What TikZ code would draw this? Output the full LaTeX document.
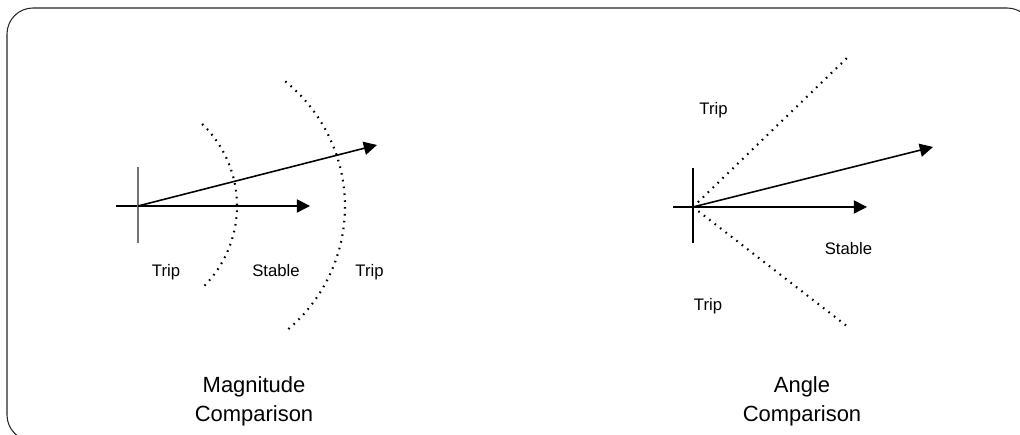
\documentclass[tikz,border=0pt]{standalone}
\usepackage{fontspec}
\setsansfont{Liberation Sans}
\usepackage{tikz}
\usetikzlibrary{calc, positioning, arrows.meta}

\begin{document}
\begin{tikzpicture}[font=\sffamily\fontsize{9.5}{11}\selectfont,
    vec/.style={line width=0.9pt, -{Triangle[length=7.5pt, width=7.5pt]}},
    limit/.style={line width=1.2pt, dash pattern=on 0.9pt off 3pt},
    axis/.style={line width=0.6pt},
    caption/.style={font=\sffamily\fontsize{12.5}{16.4}\selectfont, align=center, anchor=north, inner sep=0pt},
    zone/.style={anchor=base, inner sep=0pt}]
    \useasboundingbox (0,0) rectangle (20.4,8.7);
    \clip (0,0) rectangle (20.4,8.7);

    % Frame
    \draw[line width=0.6pt, black!85, rounded corners=0.52cm] (0.14,8.54) rectangle (20.66,-0.12);

    % Magnitude: axes
    \coordinate (o1) at (2.76,4.58);
    \coordinate (w1) at (2.32,4.58);
    \coordinate (n1) at (2.76,5.36);
    \coordinate (s1) at (2.76,3.84);
    \draw[axis] (w1) -- (o1);
    \draw[axis, black!55] (n1) -- (s1);

    % Magnitude: vectors
    \coordinate (h1) at (6.20,4.58);
    \coordinate (u1) at (7.54,5.80);
    \draw[vec] (o1) -- (h1);
    \draw[vec] (o1) -- (u1);

    % Magnitude: limits
    \coordinate (c1) at (2.46,4.58);
    \coordinate (c2) at (3.68,4.57);
    \draw[limit] (c1) ++(46:2.28) arc[start angle=46, end angle=-45, radius=2.28];
    \draw[limit] (c2) ++(51:3.22) arc[start angle=51, end angle=-51, radius=3.22];

    \node[zone] (trip1) at (3.32,3.16) {Trip};
    \node[zone] (stable1) at (5.52,3.16) {Stable};
    \node[zone] (trip2) at (7.39,3.16) {Trip};

    % Angle: axes
    \coordinate (o2) at (13.86,4.56);
    \coordinate (w2) at (13.46,4.56);
    \coordinate (n2) at (13.86,5.34);
    \coordinate (s2) at (13.86,3.84);
    \draw[axis] (w2) -- (o2);
    \draw[axis] (n2) -- (s2);

    % Angle: vectors
    \coordinate (h2) at (17.34,4.56);
    \coordinate (u2) at (18.66,5.76);
    \draw[vec] (o2) -- (h2);
    \draw[vec] (o2) -- (u2);

    % Angle: limits
    \coordinate (a1) at (16.96,7.56);
    \coordinate (a2) at (16.96,2.16);
    \draw[limit] (o2) -- (a1);
    \draw[limit] (o2) -- (a2);

    \node[zone] (trip3) at (14.27,6.40) {Trip};
    \node[zone] (stable2) at (16.97,3.61) {Stable};
    \node[zone] (trip4) at (14.16,2.49) {Trip};

    % Captions
    \node[caption] (mag) at (5.08,1.17) {Magnitude\\Comparison};
    \node[caption] (ang) at (16.04,1.17) {Angle\\Comparison};
\end{tikzpicture}
\end{document}
